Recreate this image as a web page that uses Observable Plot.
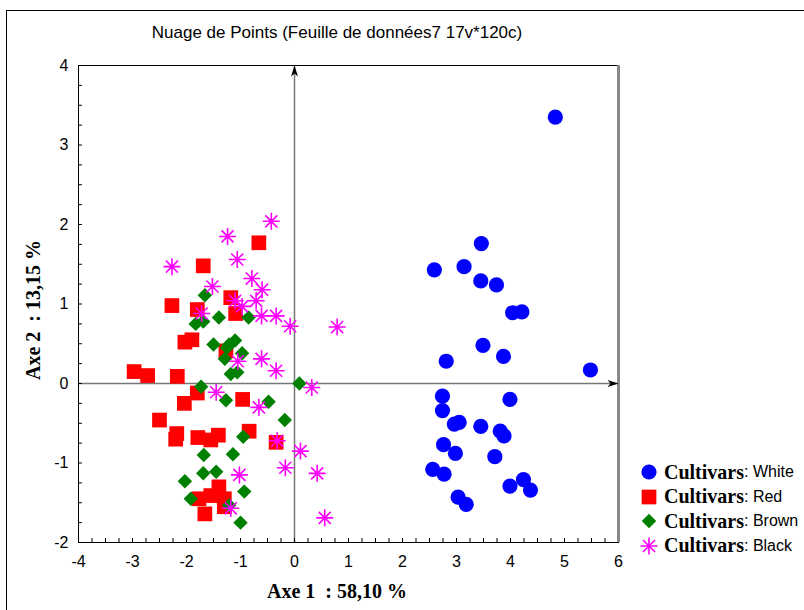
<!DOCTYPE html>
<html>
<head>
<meta charset="utf-8">
<script src="https://cdn.jsdelivr.net/npm/d3@7"></script>
<script src="https://cdn.jsdelivr.net/npm/@observablehq/plot@0.6"></script>
<style>
  body { margin: 0; background: white; }
  #wrap { position: relative; width: 804px; height: 610px; overflow: hidden; background: white; }
  #border { position: absolute; left: 6px; top: 10px; width: 1000px; height: 1000px; border-left: 1px solid #000; border-top: 1px solid #000; pointer-events: none; }
  .sans { font-family: Arial, "Liberation Sans", sans-serif; }
  .serif { font-family: "Times New Roman", "Liberation Serif", serif; font-weight: bold; }
  #title { position: absolute; left: 337px; top: 23px; transform: translateX(-50%); font-size: 17px; white-space: nowrap; }
  #xlabel { position: absolute; left: 337px; top: 580px; transform: translateX(-50%); font-size: 20px; white-space: nowrap; }
  #ylabel { position: absolute; left: 33px; top: 310px; transform: translate(-50%,-50%) rotate(-90deg); font-size: 20px; white-space: nowrap; }
  #legend { position: absolute; left: 638px; top: 460px; }
  .row { height: 24.5px; display: flex; align-items: center; white-space: nowrap; }
  .row svg { width: 22px; height: 20px; margin-right: 4px; }
  .row .c { font-size: 20px; }
  .row .v { font-size: 16px; }
</style>
</head>
<body>
<div id="wrap">
  <div id="chart"></div>
  <div id="border"></div>
  <div id="title" class="sans">Nuage de Points (Feuille de données7 17v*120c)</div>
  <div id="xlabel" class="serif">Axe 1&nbsp;&nbsp;: 58,10 %</div>
  <div id="ylabel" class="serif">Axe 2&nbsp;&nbsp;: 13,15 %</div>
  <div id="legend"></div>
</div>
<script>
const title = "Nuage de Points (Feuille de données7 17v*120c)";
const xDomain = [-4, 6];
const yDomain = [-2, 4];
const xTicks = [-4, -3, -2, -1, 0, 1, 2, 3, 4, 5, 6];
const yTicks = [-2, -1, 0, 1, 2, 3, 4];
const minorStep = 0.25;
const groupNames = ["White", "Red", "Brown", "Black"];
const groupColors = ["#0000ff", "#ff0000", "#008000", "#ff00ff"];

const whitePts = [[4.83,3.35],[3.46,1.76],[2.59,1.43],[3.14,1.47],[3.45,1.29],[3.74,1.24],[4.04,0.89],[4.21,0.90],[3.49,0.48],[2.81,0.28],[3.87,0.34],[5.48,0.17],[2.74,-0.16],[3.99,-0.20],[2.74,-0.34],[2.96,-0.51],[3.05,-0.49],[3.45,-0.54],[3.81,-0.60],[3.88,-0.66],[2.76,-0.77],[2.98,-0.88],[3.71,-0.92],[2.56,-1.08],[2.77,-1.14],[3.99,-1.29],[4.24,-1.21],[4.37,-1.34],[3.03,-1.43],[3.18,-1.52]];
const redPts = [[-0.66,1.77],[-1.69,1.48],[-2.27,0.98],[-1.80,0.93],[-1.18,1.08],[-1.09,0.88],[-2.03,0.52],[-1.90,0.55],[-1.27,0.41],[-2.97,0.15],[-2.72,0.10],[-2.17,0.09],[-1.80,-0.12],[-2.04,-0.25],[-0.96,-0.20],[-2.50,-0.46],[-2.18,-0.63],[-2.20,-0.70],[-1.79,-0.68],[-1.55,-0.71],[-1.41,-0.65],[-0.84,-0.60],[-0.34,-0.74],[-1.40,-1.30],[-1.55,-1.41],[-1.77,-1.45],[-1.66,-1.64],[-1.30,-1.55],[-1.30,-1.45]];
const brownPts = [[-1.66,1.11],[-1.40,0.83],[-0.85,0.83],[-1.83,0.75],[-1.69,0.78],[-1.50,0.49],[-1.21,0.49],[-1.10,0.54],[-0.97,0.38],[-1.29,0.31],[-1.18,0.12],[-1.06,0.14],[-1.25,0.45],[-1.73,-0.04],[0.09,0.00],[-1.27,-0.21],[-0.48,-0.23],[-0.18,-0.46],[-0.95,-0.67],[-1.68,-0.90],[-1.14,-0.89],[-1.69,-1.13],[-1.45,-1.11],[-2.03,-1.23],[-0.93,-1.36],[-1.92,-1.45],[-1.00,-1.75],[-1.21,-1.53]];
const blackPts = [[-2.27,1.47],[-1.24,1.85],[-0.43,2.04],[-1.06,1.56],[-0.79,1.32],[-1.52,1.22],[-0.60,1.18],[-0.71,1.04],[-1.10,1.04],[-0.97,0.97],[-1.72,0.88],[-0.61,0.85],[-0.34,0.85],[-0.08,0.72],[0.79,0.71],[-1.05,0.28],[-0.61,0.31],[-0.34,0.16],[0.32,-0.05],[-1.45,-0.11],[-0.66,-0.30],[-0.32,-0.72],[0.11,-0.85],[-0.17,-1.06],[-1.02,-1.15],[0.42,-1.13],[-1.18,-1.57],[0.56,-1.69]];

const star8 = {
  draw(context, size) {
    const r = Math.sqrt(size / Math.PI);
    const d = r * Math.SQRT1_2;
    context.moveTo(-r, 0); context.lineTo(r, 0);
    context.moveTo(0, -r); context.lineTo(0, r);
    context.moveTo(-d, -d); context.lineTo(d, d);
    context.moveTo(-d, d); context.lineTo(d, -d);
  }
};
const arrowHead = {
  draw(context) {
    context.moveTo(0, 0);
    context.lineTo(-3.5, 11);
    context.lineTo(0, 8);
    context.lineTo(3.5, 11);
    context.closePath();
  }
};

const W = 804, H = 610, mL = 78, mR = 186, mT = 65, mB = 68, tickLen = 4;
const minorX = d3.range(xDomain[0], xDomain[1] + 1e-9, minorStep);
const minorY = d3.range(yDomain[0], yDomain[1] + 1e-9, minorStep);
const pt = a => a.map(([x, y]) => ({x, y}));
const fmt = d => String(d);

const chart = Plot.plot({
  width: W,
  height: H,
  marginLeft: mL,
  marginRight: mR,
  marginTop: mT,
  marginBottom: mB,
  x: {domain: xDomain},
  y: {domain: yDomain},
  style: {fontFamily: "Arial, 'Liberation Sans', sans-serif", fontSize: "16px", background: "transparent", color: "black"},
  marks: [
    Plot.ruleX([0], {stroke: "#777", strokeWidth: 1.5}),
    Plot.ruleY([0], {stroke: "#777", strokeWidth: 1.5}),
    Plot.tickX(minorX, {x: d => d, stroke: "black", insetTop: H - mT - mB - tickLen}),
    Plot.tickY(minorY, {y: d => d, stroke: "black", insetRight: W - mL - mR - tickLen}),
    Plot.frame({stroke: "black", strokeWidth: 1}),
    Plot.ruleX([xDomain[1]], {stroke: "#888", strokeWidth: 3}),
    Plot.axisX(xTicks, {tickSize: 0, tickPadding: 13, label: null, fontSize: 16, tickFormat: fmt}),
    Plot.axisY(yTicks, {tickSize: 0, tickPadding: 10, label: null, fontSize: 16, tickFormat: fmt}),
    Plot.dot([{x: 0, y: yDomain[1]}], {x: "x", y: "y", symbol: arrowHead, fill: "black", stroke: "none"}),
    Plot.dot([{x: xDomain[1], y: 0}], {x: "x", y: "y", symbol: arrowHead, fill: "black", stroke: "none", rotate: 90}),
    Plot.dot(pt(whitePts), {x: "x", y: "y", symbol: "circle", r: 7.6, fill: groupColors[0], stroke: "none"}),
    Plot.dot(pt(redPts), {x: "x", y: "y", symbol: "square", r: 8.3, fill: groupColors[1], stroke: "none"}),
    Plot.dot(pt(brownPts), {x: "x", y: "y", symbol: "diamond2", r: 6.5, fill: groupColors[2], stroke: "none"}),
    Plot.dot(pt(blackPts), {x: "x", y: "y", symbol: star8, r: 8.5, fill: "none", stroke: groupColors[3], strokeWidth: 1.6})
  ]
});
document.getElementById("chart").appendChild(chart);

// legend
const legendSymbols = ["circle", "square", "diamond2", star8];
const legendSizes = [7.6, 8.3, 6.5, 8.5];
const legend = document.getElementById("legend");
groupNames.forEach((name, i) => {
  const row = document.createElement("div");
  row.className = "row";
  const svg = d3.create("svg").attr("viewBox", "-11 -10 22 20");
  const sym = legendSymbols[i];
  const path = d3.symbol(typeof sym === "string" ? {circle: d3.symbolCircle, square: d3.symbolSquare, diamond2: d3.symbolDiamond2}[sym] : sym, Math.PI * legendSizes[i] ** 2)();
  const p = svg.append("path").attr("d", path);
  if (sym === star8) p.attr("fill", "none").attr("stroke", groupColors[i]).attr("stroke-width", 1.6);
  else p.attr("fill", groupColors[i]);
  row.appendChild(svg.node());
  const c = document.createElement("span");
  c.className = "c serif"; c.textContent = "Cultivars";
  const v = document.createElement("span");
  v.className = "v sans"; v.textContent = ": " + name;
  row.appendChild(c); row.appendChild(v);
  legend.appendChild(row);
});
</script>
</body>
</html>
